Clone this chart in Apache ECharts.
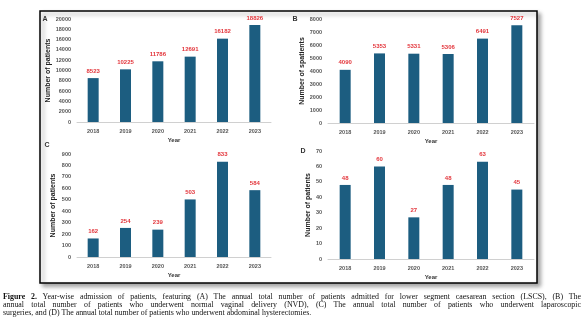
<!DOCTYPE html>
<html>
<head>
<meta charset="utf-8">
<script src="https://cdn.jsdelivr.net/npm/echarts@6/dist/echarts.min.js"></script>
<style>
  html, body { margin: 0; padding: 0; background: #fff; }
  #wrap { position: relative; width: 584px; height: 327px; }
  #chart { position: absolute; left: 0; top: 0; width: 584px; height: 327px; }
  #caption {
    position: absolute; left: 3px; top: 293px; width: 578px;
    font-family: "Liberation Serif", "DejaVu Serif", serif;
    font-size: 7.9px; line-height: 8px; color: #111;
  }
  #caption .ln { white-space: nowrap; text-align: justify; text-align-last: justify; }
  #caption .ln.last { text-align-last: left; }
</style>
</head>
<body>
<div id="wrap">
  <div id="chart"></div>
  <div id="caption">
    <div class="ln"><b>Figure 2.</b> Year-wise admission of patients, featuring (A) The annual total number of patients admitted for lower segment caesarean section (LSCS), (B) The</div>
    <div class="ln">annual total number of patients who underwent normal vaginal delivery (NVD), (C) The annual total number of patients who underwent laparoscopic</div>
    <div class="ln last">surgeries, and (D) The annual total number of patients who underwent abdominal hysterectomies.</div>
  </div>
</div>
<script>
// Years shared by all four panels
const years = ['2018', '2019', '2020', '2021', '2022', '2023'];

// (A) LSCS admissions
const lscs = [8523, 10225, 11786, 12691, 16182, 18826];
// (B) Normal vaginal deliveries
const nvd = [4090, 5353, 5331, 5306, 6491, 7527];
// (C) Laparoscopic surgeries
const laparoscopic = [162, 254, 239, 503, 833, 584];
// (D) Abdominal hysterectomies
const hysterectomies = [48, 60, 27, 48, 63, 45];

// Y-axis scales per panel
const yMax = [20000, 8000, 900, 70];
const yStep = [2000, 1000, 100, 10];
const yTitles = ['Number of patients', 'Number of spatients', 'Number of patients', 'Number of patients'];
const yTitleGap = [22, 22, 20, 15];
const panelLetters = ['A', 'B', 'C', 'D'];

const seriesData = [lscs, nvd, laparoscopic, hysterectomies];

const barColor = '#1c5d80';
const labelColor = '#e3363c';
const axisTextColor = '#555';
const font = 'Liberation Sans, Arial, sans-serif';

// plot areas (pixel boxes) for the four panels
const grids = [
  { left: 77, top: 19, width: 194, height: 103 },
  { left: 328, top: 19, width: 206, height: 104 },
  { left: 77, top: 154, width: 194, height: 103 },
  { left: 328, top: 151, width: 206, height: 108 }
];

const chart = echarts.init(document.getElementById('chart'), null, { renderer: 'canvas' });

const xAxes = grids.map((g, i) => ({
  type: 'category',
  gridIndex: i,
  data: years,
  name: 'Year',
  nameLocation: 'middle',
  nameGap: 15,
  nameTextStyle: { fontFamily: font, fontSize: 6, fontWeight: 'bold', color: '#333' },
  axisLine: { show: true, lineStyle: { color: '#d0d0d0', width: 1 } },
  axisTick: { show: false },
  axisLabel: { fontFamily: font, fontSize: 5.5, fontWeight: 'bold', color: axisTextColor, margin: 6 }
}));

const yAxes = grids.map((g, i) => ({
  type: 'value',
  gridIndex: i,
  min: 0,
  max: yMax[i],
  interval: yStep[i],
  name: yTitles[i],
  nameLocation: 'middle',
  nameGap: yTitleGap[i],
  nameTextStyle: { fontFamily: font, fontSize: 7, fontWeight: 'bold', color: '#222' },
  axisLine: { show: false },
  axisTick: { show: false },
  splitLine: { show: false },
  axisLabel: {
    fontFamily: font, fontSize: 5.5, fontWeight: 'bold', color: axisTextColor, margin: 6,
    formatter: v => String(v)
  }
}));

const series = seriesData.map((d, i) => ({
  type: 'bar',
  xAxisIndex: i,
  yAxisIndex: i,
  data: d,
  barWidth: 11,
  itemStyle: { color: barColor },
  label: {
    show: true,
    position: 'top',
    distance: 4,
    fontFamily: font,
    fontSize: 6,
    fontWeight: 'bold',
    color: labelColor
  },
  silent: true
}));

// panel letters
const letterPos = [[45, 19], [295, 19], [47, 145], [303, 151]];
const graphics = [
  {
    type: 'rect',
    shape: { x: 40, y: 11, width: 497, height: 272 },
    style: {
      fill: '#fff',
      stroke: '#000',
      lineWidth: 1.5,
      shadowBlur: 4,
      shadowOffsetX: 3,
      shadowOffsetY: 3,
      shadowColor: 'rgba(0,0,0,0.35)'
    },
    z: -10,
    silent: true
  }
].concat(letterPos.map((p, i) => ({
  type: 'text',
  x: p[0],
  y: p[1],
  style: {
    text: panelLetters[i],
    fontFamily: font,
    fontSize: 7,
    fontWeight: 'bold',
    fill: '#333',
    align: 'center',
    verticalAlign: 'middle'
  },
  silent: true
})));

chart.setOption({
  animation: false,
  backgroundColor: '#fff',
  grid: grids.map(g => Object.assign({ containLabel: false }, g)),
  xAxis: xAxes,
  yAxis: yAxes,
  series: series,
  graphic: graphics
});
</script>
</body>
</html>
